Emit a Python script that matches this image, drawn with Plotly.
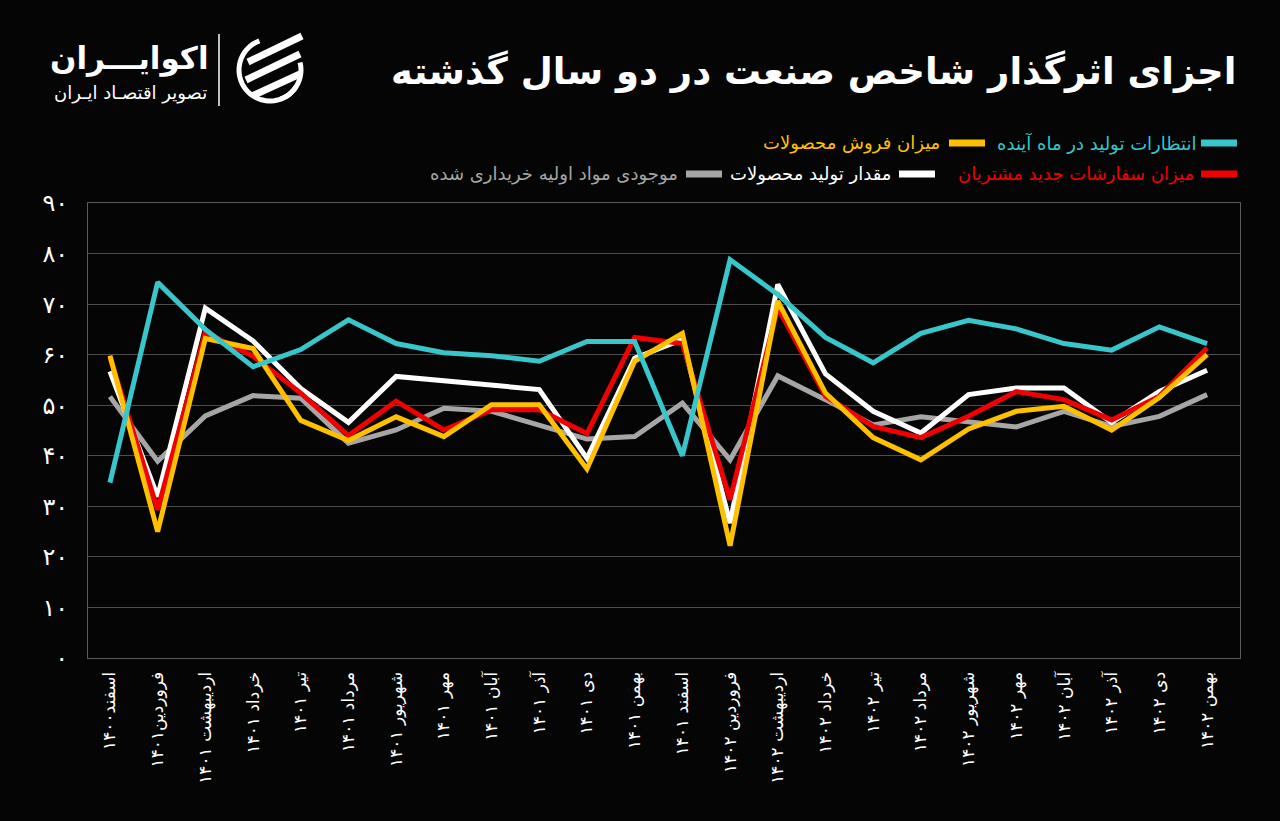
import plotly.graph_objects as go
import math

categories = ["اسفند۱۴۰۰", "فروردین۱۴۰۱", "اردیبهشت ۱۴۰۱", "خرداد ۱۴۰۱", "تیر ۱۴۰۱", "مرداد ۱۴۰۱",
              "شهریور ۱۴۰۱", "مهر ۱۴۰۱", "آبان ۱۴۰۱", "آذر ۱۴۰۱", "دی ۱۴۰۱", "بهمن ۱۴۰۱",
              "اسفند ۱۴۰۱", "فروردین ۱۴۰۲", "اردیبهشت ۱۴۰۲", "خرداد ۱۴۰۲", "تیر ۱۴۰۲", "مرداد ۱۴۰۲",
              "شهریور ۱۴۰۲", "مهر ۱۴۰۲", "آبان ۱۴۰۲", "آذر ۱۴۰۲", "دی ۱۴۰۲", "بهمن ۱۴۰۲"]

expectations = [34.7, 74.3, 65.0, 57.6, 61.0, 66.9, 62.2, 60.4, 59.8, 58.7, 62.6, 62.6,
                40.0, 78.8, 71.9, 63.4, 58.4, 64.2, 66.8, 65.1, 62.2, 60.9, 65.5, 62.2]
sales = [59.8, 25.0, 63.2, 61.2, 47.0, 43.0, 47.7, 43.8, 50.1, 50.1, 37.4, 58.7,
         64.2, 22.2, 70.6, 52.4, 43.6, 39.2, 45.3, 48.8, 49.8, 45.1, 51.5, 60.0]
new_orders = [59.5, 29.3, 64.4, 59.7, 52.4, 44.0, 50.8, 45.1, 49.1, 49.1, 44.4, 63.4,
              62.2, 31.3, 69.3, 51.8, 45.8, 43.6, 47.8, 52.7, 51.1, 47.1, 51.8, 61.3]
production = [56.7, 31.9, 69.2, 62.7, 53.3, 46.6, 55.7, 54.9, 54.1, 53.1, 39.5, 59.3,
              63.0, 26.7, 73.9, 56.2, 48.8, 44.5, 52.1, 53.4, 53.4, 46.6, 52.7, 56.9]
inventory = [51.7, 38.9, 47.9, 51.9, 51.4, 42.5, 45.1, 49.4, 48.8, 46.1, 43.3, 43.8,
             50.4, 39.2, 55.8, 51.1, 46.1, 47.7, 46.8, 45.7, 48.8, 45.8, 47.8, 52.1]

y_ticks = [0, 10, 20, 30, 40, 50, 60, 70, 80, 90]
y_tick_labels = ["۰", "۱۰", "۲۰", "۳۰", "۴۰", "۵۰", "۶۰", "۷۰", "۸۰", "۹۰"]

series_names = ["انتظارات تولید در ماه آینده", "میزان فروش محصولات", "میزان سفارشات جدید مشتریان",
                "مقدار تولید محصولات", "موجودی مواد اولیه خریداری شده"]
C_CYAN, C_YEL, C_RED, C_WHITE, C_GRAY = "#38C6CA", "#FFC000", "#F00000", "#FFFFFF", "#A6A6A6"

FONT = "DejaVu Sans"
W, H = 1280, 821
L, R, T, B = 88, 40, 203, 163
PW, PH = W - L - R, H - T - B


def px(x):
    return (x - L) / PW


def py(y):
    return (H - B - y) / PH


fig = go.Figure()
xs = list(range(len(categories)))
for vals, col, name in [(inventory, C_GRAY, series_names[4]),
                        (production, C_WHITE, series_names[3]),
                        (new_orders, C_RED, series_names[2]),
                        (sales, C_YEL, series_names[1]),
                        (expectations, C_CYAN, series_names[0])]:
    fig.add_trace(go.Scatter(x=xs, y=vals, mode="lines", name=name,
                             line=dict(color=col, width=5), showlegend=False, hoverinfo="skip"))

shapes = []
annotations = []

# title
annotations.append(dict(text="<b>اجزای اثرگذار شاخص صنعت در دو سال گذشته</b>", xref="paper", yref="paper",
                        x=px(1238), y=py(72), xanchor="right", yanchor="middle", showarrow=False,
                        font=dict(family=FONT, size=37, color="#FFFFFF")))

# logo texts
annotations.append(dict(text="<b>اکوایـــران</b>", xref="paper", yref="paper",
                        x=px(211), y=py(58), xanchor="right", yanchor="middle", showarrow=False,
                        font=dict(family=FONT, size=31, color="#FFFFFF")))
annotations.append(dict(text="تصویر اقتصـاد ایـران", xref="paper", yref="paper",
                        x=px(209), y=py(93), xanchor="right", yanchor="middle", showarrow=False,
                        font=dict(family=FONT, size=18, color="#FFFFFF")))
shapes.append(dict(type="line", xref="paper", yref="paper", x0=px(219), x1=px(219), y0=py(34), y1=py(106),
                   line=dict(color="#FFFFFF", width=1.5)))
# logo icon: broken circle + swooshes
cx, cy, r = 270, 70, 31
arc1 = []
for a in range(110, 330, 6):
    t = math.radians(a)
    arc1.append((cx + r * math.cos(t), cy - r * math.sin(t)))
path = "M " + " L ".join(f"{px(x):.5f},{py(y):.5f}" for x, y in arc1)
shapes.append(dict(type="path", xref="paper", yref="paper", path=path, line=dict(color="#FFFFFF", width=5)))
arc2 = []
for a in range(-70, 20, 6):
    t = math.radians(a)
    arc2.append((cx + r * math.cos(t), cy - r * math.sin(t)))
path = "M " + " L ".join(f"{px(x):.5f},{py(y):.5f}" for x, y in arc2)
shapes.append(dict(type="path", xref="paper", yref="paper", path=path, line=dict(color="#FFFFFF", width=5)))
for (x0, y0, x1, y1) in [(248, 62, 302, 36), (246, 80, 300, 54), (252, 96, 300, 74)]:
    shapes.append(dict(type="line", xref="paper", yref="paper", x0=px(x0), y0=py(y0), x1=px(x1), y1=py(y1),
                       line=dict(color="#FFFFFF", width=7)))

# legend
legend_items = [
    (series_names[0], C_CYAN, 1237, 1198, 143),
    (series_names[1], C_YEL, 985, 942, 143),
    (series_names[2], C_RED, 1237, 1196, 174),
    (series_names[3], C_WHITE, 935, 893, 174),
    (series_names[4], C_GRAY, 722, 680, 174),
]
for name, col, sw_r, tx_r, yy in legend_items:
    shapes.append(dict(type="rect", xref="paper", yref="paper", x0=px(sw_r - 36), x1=px(sw_r),
                       y0=py(yy - 3.5), y1=py(yy + 3.5), fillcolor=col, line=dict(width=0)))
    annotations.append(dict(text=name, xref="paper", yref="paper", x=px(tx_r), y=py(yy),
                            xanchor="right", yanchor="middle", showarrow=False,
                            font=dict(family=FONT, size=18, color=col)))

fig.update_layout(
    width=W, height=H,
    margin=dict(l=L, r=R, t=T, b=B),
    paper_bgcolor="#050505", plot_bgcolor="#050505",
    shapes=shapes, annotations=annotations,
    showlegend=False,
    xaxis=dict(tickmode="array", tickvals=xs, ticktext=categories, tickangle=-90,
               range=[-0.46, 23.69], showgrid=False, zeroline=False,
               showline=True, linecolor="#5a5a5a", linewidth=1, mirror=True,
               ticks="outside", ticklen=6, tickcolor="rgba(0,0,0,0)",
               tickfont=dict(family=FONT, size=17, color="#FFFFFF")),
    yaxis=dict(tickmode="array", tickvals=y_ticks, ticktext=y_tick_labels, range=[0, 90],
               showgrid=True, gridcolor="#4d4d4d", gridwidth=1, zeroline=False,
               showline=True, linecolor="#5a5a5a", linewidth=1, mirror=True,
               ticks="outside", ticklen=14, tickcolor="rgba(0,0,0,0)",
               tickfont=dict(family=FONT, size=24, color="#FFFFFF")),
)

fig.write_html("out.html", config={"displayModeBar": False},
               post_script="document.body.style.margin='0';document.body.style.background='#050505';")
